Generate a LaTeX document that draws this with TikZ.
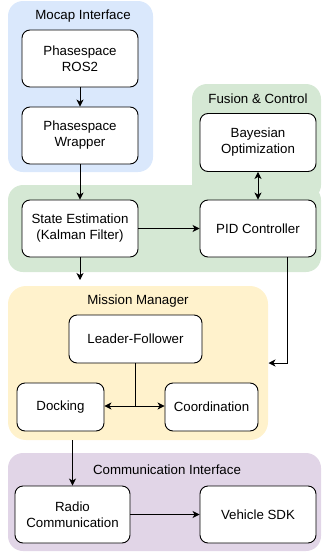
\documentclass[tikz,border=0pt]{standalone}
\usepackage{fontspec}
\setmainfont{Liberation Sans}
\usetikzlibrary{arrows.meta}
\definecolor{cblue}{HTML}{DAE8FC}
\definecolor{cgreen}{HTML}{D5E8D4}
\definecolor{cyellow}{HTML}{FFF2CC}
\definecolor{cpurple}{HTML}{E1D5E7}
\tikzset{
  region/.style={draw=none, rounded corners=15pt, inner sep=0pt},
  box/.style={draw=black, fill=white, line width=0.9pt, rounded corners=8pt, align=center, inner sep=0pt, font=\fontsize{13.3}{16}\selectfont},
  title/.style={font=\fontsize{13.3}{16}\selectfont, inner sep=0pt},
  arr/.style={line width=0.9pt, -{Stealth[length=7pt,width=7pt,inset=2pt]}},
  darr/.style={line width=0.9pt, {Stealth[length=7pt,width=7pt,inset=2pt]}-{Stealth[length=7pt,width=7pt,inset=2pt]}},
  ln/.style={line width=0.9pt}
}
\begin{document}
\begin{tikzpicture}[x=1pt,y=-1pt]
\useasboundingbox (0,0) rectangle (323,554);
% regions
\node[region, fill=cblue, minimum width=145pt, minimum height=171pt] (mocap) at (80.5,86.5) {};
\node[region, fill=cgreen, minimum width=129pt, minimum height=116pt] (fusiontop) at (256.5,142) {};
\node[region, fill=cgreen, minimum width=313pt, minimum height=87pt] (fusion) at (164.5,228.5) {};
\node[region, fill=cyellow, rounded corners=18pt, minimum width=260pt, minimum height=154pt] (mission) at (138,363) {};
\node[region, fill=cpurple, minimum width=313pt, minimum height=98pt] (comm) at (164.5,502) {};
% titles
\node[title] (tmocap) at (83,16) {Mocap Interface};
\node[title] (tfusion) at (258,99) {Fusion \& Control};
\node[title] (tmission) at (138,301) {Mission Manager};
\node[title] (tcomm) at (167,470) {Communication Interface};
% boxes
\node[box, minimum width=116pt, minimum height=57pt] (ros2) at (80,58.5) {Phasespace\\ROS2};
\node[box, minimum width=116pt, minimum height=57pt] (wrap) at (80,135.5) {Phasespace\\Wrapper};
\node[box, minimum width=116pt, minimum height=58pt] (bayes) at (258,142.5) {Bayesian\\Optimization};
\node[box, minimum width=116pt, minimum height=57pt] (state) at (80,228.5) {State Estimation\\(Kalman Filter)};
\node[box, minimum width=116pt, minimum height=57pt] (pid) at (258,228.5) {PID Controller};
\node[box, minimum width=133pt, minimum height=48pt] (leader) at (135.5,339) {Leader-Follower};
\node[box, minimum width=87pt, minimum height=48pt] (dock) at (60.5,407) {Docking};
\node[box, minimum width=93pt, minimum height=48pt] (coord) at (211.5,407) {Coordination};
\node[box, minimum width=115pt, minimum height=57pt] (radio) at (72.5,514.5) {Radio\\Communication};
\node[box, minimum width=116pt, minimum height=57pt] (sdk) at (258,514.5) {Vehicle SDK};
% coordinates
\coordinate (stateout) at (80,280);
\coordinate (mmin) at (268.5,363);
\coordinate (split) at (135.5,406);
% connectors
\draw[arr] (ros2.south) -- (wrap.north);
\draw[arr] (wrap.south) -- (state.north);
\draw[darr] (bayes.south) -- (pid.north);
\draw[arr] (state.east) -- (pid.west);
\draw[arr] (state.south) -- (stateout);
\draw[arr] ([xshift=29pt]pid.south) |- (mmin);
\draw[ln] (leader.south) -- (split);
\draw[arr] (split) -- (dock.east |- split);
\draw[arr] (split) -- (coord.west |- split);
\draw[arr] (radio.north |- mission.south) -- (radio.north);
\draw[arr] (radio.east) -- (sdk.west);
\end{tikzpicture}
\end{document}
